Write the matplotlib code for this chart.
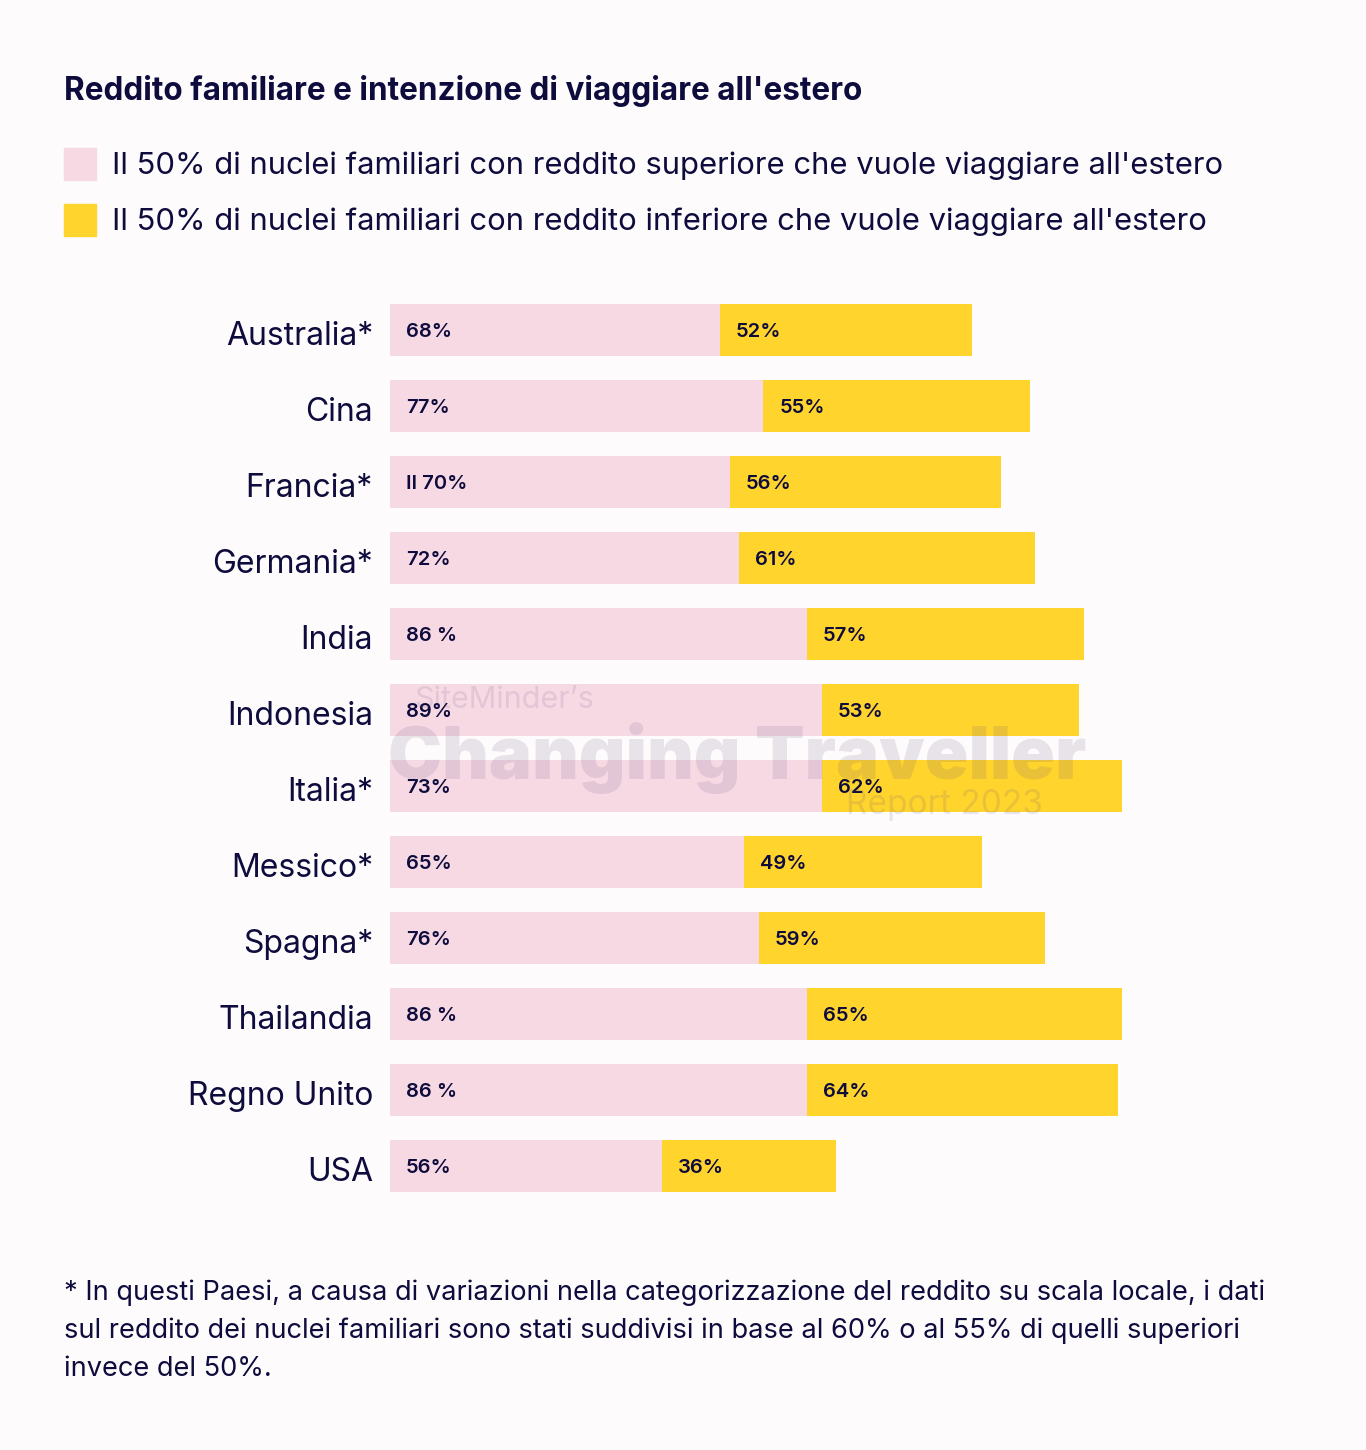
import matplotlib
matplotlib.use("Agg")
import matplotlib.pyplot as plt

W, H = 1366, 1450
BG = "#FDFBFC"
NAVY = "#0E0B3D"
PINK = "#F7D9E4"
YELLOW = "#FFD42C"

countries = ["Australia*", "Cina", "Francia*", "Germania*", "India", "Indonesia",
             "Italia*", "Messico*", "Spagna*", "Thailandia", "Regno Unito", "USA"]
upper_width = [68, 77, 70, 72, 86, 89, 89, 73, 76, 86, 86, 56]
lower_width = [52, 55, 56, 61, 57, 53, 62, 49, 59, 65, 64, 36]
upper_labels = ["68%", "77%", "Il 70%", "72%", "86 %", "89%", "73%", "65%", "76%", "86 %", "86 %", "56%"]
lower_labels = ["52%", "55%", "56%", "61%", "57%", "53%", "62%", "49%", "59%", "65%", "64%", "36%"]

title = "Reddito familiare e intenzione di viaggiare all'estero"
legend_labels = ["Il 50% di nuclei familiari con reddito superiore che vuole viaggiare all'estero",
                 "Il 50% di nuclei familiari con reddito inferiore che vuole viaggiare all'estero"]
footnote = ["* In questi Paesi, a causa di variazioni nella categorizzazione del reddito su scala locale, i dati",
            "sul reddito dei nuclei familiari sono stati suddivisi in base al 60% o al 55% di quelli superiori",
            "invece del 50%."]

plt.rcParams['font.family'] = ['Inter', 'DejaVu Sans']

fig = plt.figure(figsize=(W / 100, H / 100), dpi=100, facecolor=BG)

def fx(x):
    return x / W

def fy(y):
    return 1 - y / H

px_per_unit = 4.85
ax_left, ax_top, ax_bottom = 390, 292, 1204
ax = fig.add_axes([fx(ax_left), fy(ax_bottom), fx(W - ax_left), (ax_bottom - ax_top) / H])
ax.set_facecolor("none")
ax.set_xlim(0, (W - ax_left) / px_per_unit)
ax.set_ylim(len(countries) - 0.5, -0.5)
ax.axis("off")

ypos = list(range(len(countries)))
ax.barh(ypos, upper_width, height=52 / 76, color=PINK, left=0)
ax.barh(ypos, lower_width, height=52 / 76, color=YELLOW, left=upper_width)

off = 16 / px_per_unit
for i in ypos:
    ax.text(off, i + 0.025, upper_labels[i], ha="left", va="center", fontsize=14.5,
            fontweight="semibold", color=NAVY)
    ax.text(upper_width[i] + off, i + 0.025, lower_labels[i], ha="left", va="center",
            fontsize=14.5, fontweight="semibold", color=NAVY)
    ax.text(-17 / px_per_unit, i + 0.09, countries[i], ha="right", va="center",
            fontsize=23, color=NAVY, clip_on=False)

# title
fig.text(fx(64), fy(91), title, ha="left", va="center", fontsize=22.7,
         fontweight="bold", color=NAVY)

# legend
for k, (lab, col) in enumerate(zip(legend_labels, [PINK, YELLOW])):
    yc = 164 + 56 * k
    fig.patches.append(plt.Rectangle((fx(64), fy(yc + 16)), 32 / W, 32 / H,
                                     transform=fig.transFigure, color=col))
    fig.text(fx(112), fy(yc + 2), lab, ha="left", va="center", fontsize=22.3, color=NAVY)

# footnote
for k, line in enumerate(footnote):
    fig.text(fx(64), fy(1293 + 38 * k), line, ha="left", va="center",
             fontsize=19.6, color=NAVY)

# watermark
wm = "#6E5A80"
fig.text(fx(414), fy(700), "SiteMinder\u2019s", ha="left", va="center", fontsize=22,
         color=wm, alpha=0.15, zorder=10)
fig.text(fx(388), fy(758), "Changing Traveller", ha="left", va="center", fontsize=52,
         fontweight="black", color=wm, alpha=0.15, zorder=10)
fig.text(fx(846), fy(805), "Report 2023", ha="left", va="center", fontsize=24,
         color=wm, alpha=0.15, zorder=10)

fig.savefig("out.png", dpi=100, facecolor=BG)
